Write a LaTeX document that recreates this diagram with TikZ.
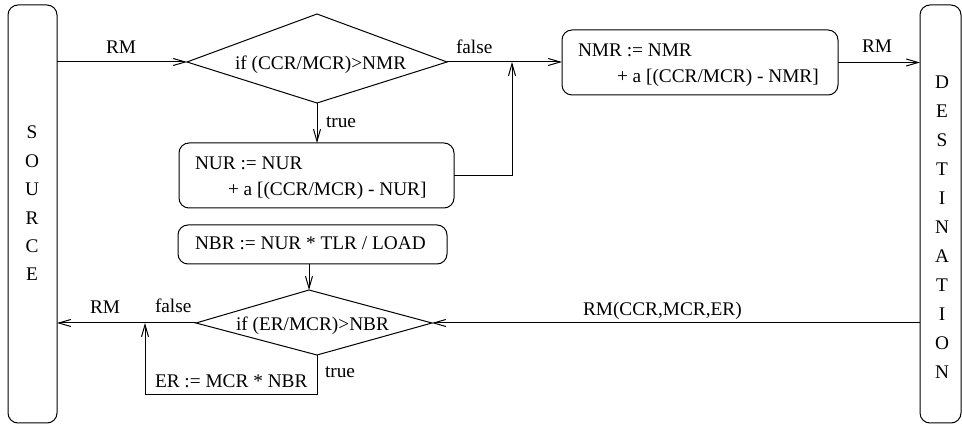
\documentclass[tikz,border=0pt]{standalone}
\usepackage{fontspec}
\setmainfont{Liberation Serif}
\usetikzlibrary{arrows.meta}
\begin{document}
\begin{tikzpicture}[x=1pt,y=-1pt,
  every node/.style={font=\fontsize{19.3}{23}\selectfont, inner sep=0pt, outer sep=0pt},
  txt/.style={anchor=base west},
  letter/.style={anchor=base},
  rbox/.style={draw, line width=1pt, rounded corners=10pt},
  conn/.style={line width=1pt},
  arr/.style={conn, -{Straight Barb[length=12pt,width=7pt,line width=1pt]}}]
\useasboundingbox (0,0) rectangle (962,427);

% side boxes
\node[rbox, minimum width=49pt, minimum height=418pt] (src) at (32.5,214) {};
\node[rbox, minimum width=41pt, minimum height=418pt] (dst) at (940.5,214) {};
\foreach \l [count=\i from 0] in {S,O,U,R,C,E}
  \node[letter] (s\i) at (32,{139+28.4*\i}) {\l};
\foreach \l [count=\i from 0] in {D,E,S,T,I,N,A,T,I,O,N}
  \node[letter] (d\i) at (942,{89+28.96*\i}) {\l};

% process boxes
\node[rbox, minimum width=276pt, minimum height=65pt] (nmr) at (700,62.5) {};
\node[rbox, minimum width=275pt, minimum height=65pt] (nur) at (316.5,175.5) {};
\node[rbox, minimum width=269pt, minimum height=39pt] (nbr) at (312.5,244.5) {};

% top decision
\coordinate (tL) at (187,62);
\coordinate (tT) at (317,14);
\coordinate (tR) at (447,62);
\coordinate (tB) at (317,103);
\draw[conn] (tL) -- (tT) -- (tR) -- (tB) -- cycle;

% bottom decision
\coordinate (bL) at (196,323);
\coordinate (bT) at (309,290);
\coordinate (bR) at (432,323);
\coordinate (bB) at (317,355);
\draw[conn] (bL) -- (bT) -- (bR) -- (bB) -- cycle;

\coordinate (j) at (512,62);
\coordinate (k) at (145,323);
\coordinate (kb) at (145,395);

% connectors
\draw[arr] (src.east |- tL) -- (tL);
\draw[arr] (tR) -- (tR -| nmr.west);
\draw[arr] (tB) -- (tB |- nur.north);
\draw[arr] (nur.east) -| (j);
\draw[arr] (nmr.east) -- (nmr.east -| dst.west);
\draw[arr] (nbr.south -| bT) -- (bT);
\draw[arr] (dst.west |- bR) -- (bR);
\draw[arr] (bL) -- (bL -| src.east);
\draw[arr] (bB) |- (kb) -- (k);

% texts
\node[txt] (l1) at (106,54) {RM};
\node[txt] (c1) at (235,70) {if (CCR/MCR)>NMR};
\node[txt] (l2) at (456,54) {false};
\node[txt] (l3) at (326,128) {true};
\node[txt] (n1) at (578,57) {NMR := NMR};
\node[txt] (n2) at (617,83) {+ a [(CCR/MCR) - NMR]};
\node[txt] (l4) at (862,53) {RM};
\node[txt] (u1) at (195,170) {NUR := NUR};
\node[txt] (u2) at (228,196) {+ a [(CCR/MCR) - NUR]};
\node[txt] (b1) at (195,250) {NBR := NUR * TLR / LOAD};
\node[txt] (l5) at (90,314) {RM};
\node[txt] (l6) at (155,313) {false};
\node[txt] (c2) at (236,331) {if (ER/MCR)>NBR};
\node[txt] (l7) at (583,316) {RM(CCR,MCR,ER)};
\node[txt] (l8) at (325,378) {true};
\node[txt] (e1) at (155,388) {ER := MCR * NBR};
\end{tikzpicture}
\end{document}
